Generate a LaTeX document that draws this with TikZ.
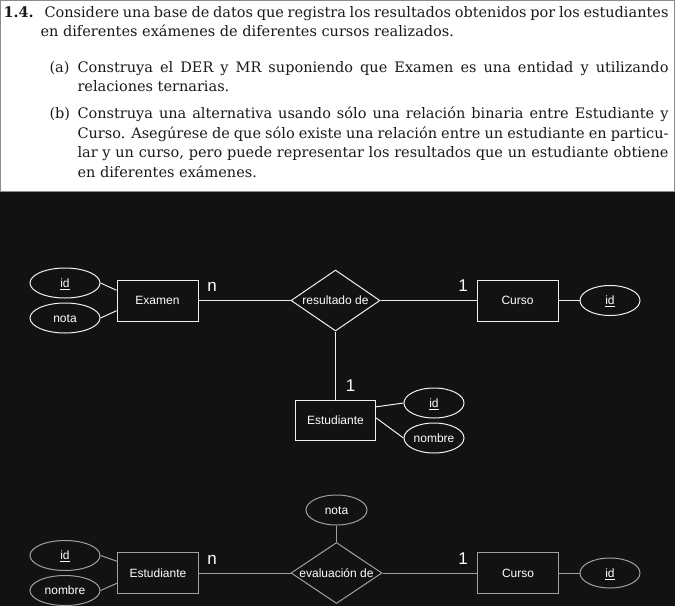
\documentclass[tikz,border=0pt]{standalone}
\usepackage{fontspec}
\setmainfont{DejaVu Serif}
\newfontfamily\diagramfont{Liberation Sans}
\usetikzlibrary{shapes.geometric}
\definecolor{bgdark}{HTML}{121212}
\definecolor{lineone}{HTML}{F0F0F0}
\definecolor{linetwo}{HTML}{A0A0A0}
\definecolor{framegray}{HTML}{8C8C8C}
\definecolor{textblack}{HTML}{1A1A1A}
\tikzset{
	entity/.style={draw,rectangle,minimum width=81pt,minimum height=41pt,inner sep=0pt,
		text height=8.6pt,text depth=0pt,text=white,font=\diagramfont\fontsize{12}{14}\selectfont},
	attrib/.style={draw,ellipse,minimum width=60pt,minimum height=30pt,inner sep=0pt,
		text height=8.6pt,text depth=0pt,text=white,font=\diagramfont\fontsize{12}{14}\selectfont},
	relation/.style={draw,diamond,aspect=1.46,minimum width=89pt,minimum height=61pt,inner sep=0pt,
		text height=8.6pt,text depth=0pt,text=white,font=\diagramfont\fontsize{12}{14}\selectfont},
	cardinal/.style={inner sep=0pt,text=white,font=\diagramfont\fontsize{17}{20}\selectfont},
	paragraph/.style={anchor=base west,inner sep=0pt,align=justify,text=textblack,
		font=\fontsize{14.5}{19.5}\selectfont}
}
\begin{document}
\begin{tikzpicture}[x=1pt,y=-1pt,line width=1pt]
			\newcommand{\mytextfont}[1]{
				\fontsize{14.5}{19.5}\selectfont #1\par
			}
			\useasboundingbox (0,0) rectangle (675,606);
			%Background and the white sheet at the top
			\fill[bgdark] (0,0) rectangle (675,606);
			\filldraw[fill=white,draw=framegray] (0.5,0.5) rectangle (674.5,191.5);
			%The exercise text
			\node [paragraph] (num) at (3,17) {\bfseries 1.4.};
			\node [paragraph,text width=628pt] (intro) at (40,17) {\mytextfont{\hspace*{4pt}Considere una base de datos que registra los resultados obtenidos por los estudiantes\linebreak en diferentes exámenes de diferentes cursos realizados.}};
			\node [paragraph] (itema) at (49,72) {(a)};
			\node [paragraph,text width=591pt] (texta) at (77,72) {\mytextfont{Construya el DER y MR suponiendo que Examen es una entidad y utilizando\linebreak relaciones ternarias.}};
			\node [paragraph] (itemb) at (49,118.5) {(b)};
			\node [paragraph,text width=591pt] (textb) at (77,118.5) {\mytextfont{Construya una alternativa usando sólo una relación binaria entre Estudiante y\linebreak Curso. Asegúrese de que sólo existe una relación entre un estudiante en particu-\linebreak lar y un curso, pero puede representar los resultados que un estudiante obtiene\linebreak en diferentes exámenes.}};
			%First diagram (ternary relation)
			\coordinate (centerExamen) at (157.5,300.5);
			\coordinate (centerResultado) at (335.5,300.5);
			\coordinate (centerCursoA) at (517.5,300.5);
			\coordinate (centerEstudianteA) at (335.5,420);
			\begin{scope}[draw=lineone]
				\node [entity] (examen) at (centerExamen) {Examen};
				\node [attrib,minimum width=70pt] (idExamen) at (65,283) {\underline{id}};
				\node [attrib,minimum width=70pt] (notaExamen) at (65,318) {nota};
				\node [relation] (resultado) at (centerResultado) {resultado de};
				\node [entity] (cursoA) at (centerCursoA) {Curso};
				\node [attrib] (idCursoA) at (610,300.5) {\underline{id}};
				\node [entity,minimum width=80pt,minimum height=40pt] (estudianteA) at (centerEstudianteA) {Estudiante};
				\node [attrib] (idEstudianteA) at (434,403) {\underline{id}};
				\node [attrib] (nombreEstudianteA) at (434,438) {nombre};
				\draw [lineone] (idExamen.east) -- (examen.166);
				\draw [lineone] (notaExamen.east) -- (examen.194);
				\draw [lineone] (examen) -- (resultado);
				\draw [lineone] (resultado) -- (cursoA);
				\draw [lineone] (cursoA) -- (idCursoA);
				\draw [lineone] (resultado) -- (estudianteA);
				\draw [lineone] (estudianteA.18) -- (idEstudianteA.west);
				\draw [lineone] (estudianteA.3) -- (nombreEstudianteA.west);
			\end{scope}
			\node [cardinal] (cardExamen) at (212,287) {n};
			\node [cardinal] (cardCursoA) at (463,286) {1};
			\node [cardinal] (cardEstudianteA) at (350.5,386) {1};
			%Second diagram (binary relation)
			\coordinate (centerEstudianteB) at (158,573);
			\coordinate (centerEvaluacion) at (336.5,573);
			\coordinate (centerCursoB) at (518,573);
			\begin{scope}[draw=linetwo]
				\node [entity] (estudianteB) at (centerEstudianteB) {Estudiante};
				\node [attrib,minimum width=70pt] (idEstudianteB) at (65,555.5) {\underline{id}};
				\node [attrib,minimum width=70pt] (nombreEstudianteB) at (65,590.5) {nombre};
				\node [relation,minimum width=91pt,aspect=1.49] (evaluacion) at (centerEvaluacion) {evaluación de};
				\node [attrib,minimum width=61pt] (notaEvaluacion) at (336.5,510) {nota};
				\node [entity] (cursoB) at (centerCursoB) {Curso};
				\node [attrib] (idCursoB) at (610,573) {\underline{id}};
				\draw [linetwo] (idEstudianteB.east) -- (estudianteB.164);
				\draw [linetwo] (nombreEstudianteB.east) -- (estudianteB.194);
				\draw [linetwo] (estudianteB) -- (evaluacion);
				\draw [linetwo] (notaEvaluacion) -- (evaluacion);
				\draw [linetwo] (evaluacion) -- (cursoB);
				\draw [linetwo] (cursoB) -- (idCursoB);
			\end{scope}
			\node [cardinal] (cardEstudianteB) at (212,560) {n};
			\node [cardinal] (cardCursoB) at (463,559) {1};
\end{tikzpicture}
\end{document}
